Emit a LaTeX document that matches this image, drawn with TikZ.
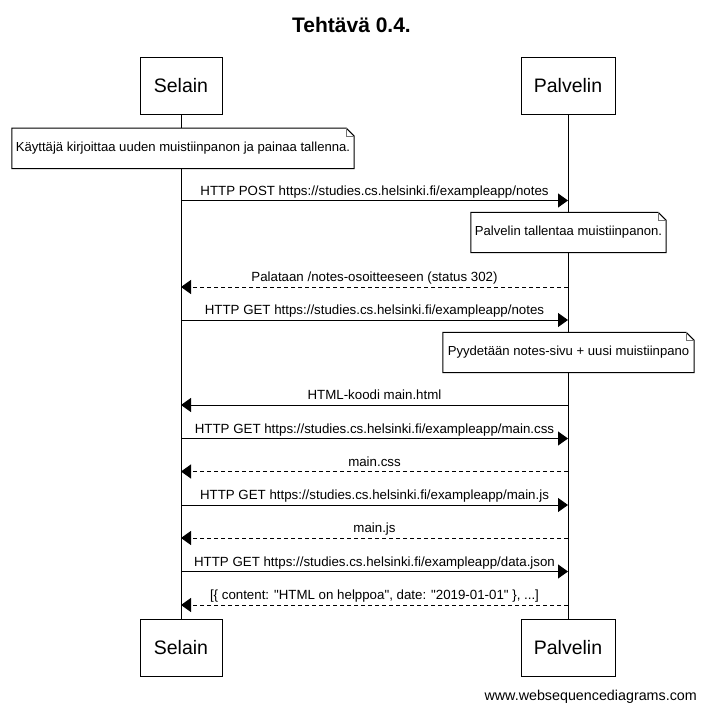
\documentclass[tikz,border=0pt]{standalone}
\usepackage{fontspec}
\setmainfont{Liberation Sans}[Ligatures=TeXOff]
\usetikzlibrary{arrows.meta}
\tikzset{
	actor/.style={draw, line width=1pt, minimum height=57pt, inner sep=0pt, font=\fontsize{19.5}{22}\selectfont},
	note/.style={fill=white, minimum height=40pt, inner sep=0pt, font=\fontsize{13.1}{15}\selectfont},
	msg/.style={line width=1pt, -{Triangle[length=10pt,width=14pt]}},
	reply/.style={msg, dash pattern=on 4pt off 3pt},
	lbl/.style={midway, anchor=base, yshift=5.5pt, inner sep=0pt, font=\fontsize{13.3}{15}\selectfont}
}
\def\notebox#1{\draw[line width=1pt] (#1.south west) -- (#1.north west) -- ([xshift=-8pt]#1.north east) -- ([yshift=-8pt]#1.north east) -- (#1.south east) -- cycle;
	\draw[line width=0.8pt, black!55] ([xshift=-8pt]#1.north east) |- ([yshift=-8pt]#1.north east);}

\begin{document}
\begin{tikzpicture}[x=1pt, y=-1pt]
			%%%%% START %%%%%
			\useasboundingbox (0, 0) rectangle (704, 710);
			
			\node[anchor=base, inner sep=0pt, font=\bfseries\fontsize{21}{24}\selectfont] (title) at (351.5, 32.3) {Tehtävä 0.4.};
			
			\node[actor, minimum width=82pt] (selTop) at (181, 85.5) {Selain};
			\node[actor, minimum width=94pt] (palTop) at (568, 85.5) {Palvelin};
			\node[actor, minimum width=82pt] (selBot) at (181, 647.5) {Selain};
			\node[actor, minimum width=94pt] (palBot) at (568, 647.5) {Palvelin};
			
			\draw[line width=1pt] (selTop) -- (selBot);
			\draw[line width=1pt] (palTop) -- (palBot);
			
			\node[note, minimum width=342pt] (noteWrite) at (183, 148.3) {Käyttäjä kirjoittaa uuden muistiinpanon ja painaa tallenna.};
			\notebox{noteWrite}
			
			\coordinate (s1) at (181, 200.5);
			\coordinate (p1) at (568, 200.5);
			\draw[msg] (s1) -- node[lbl] {HTTP POST https://studies.cs.helsinki.fi/exampleapp/notes} (p1);
			
			\node[note, minimum width=195pt] (noteSave) at (568.5, 232.5) {Palvelin tallentaa muistiinpanon.};
			\notebox{noteSave}
			
			\coordinate (s2) at (181, 287);
			\coordinate (p2) at (568, 287);
			\draw[reply] (p2) -- node[lbl] {Palataan /notes-osoitteeseen (status 302)} (s2);
			
			\coordinate (s3) at (181, 320);
			\coordinate (p3) at (568, 320);
			\draw[msg] (s3) -- node[lbl] {HTTP GET https://studies.cs.helsinki.fi/exampleapp/notes} (p3);
			
			\node[note, minimum width=251pt] (noteAsk) at (568.5, 352.5) {Pyydetään notes-sivu + uusi muistiinpano};
			\notebox{noteAsk}
			
			\coordinate (s4) at (181, 405);
			\coordinate (p4) at (568, 405);
			\draw[msg] (p4) -- node[lbl] {HTML-koodi main.html} (s4);
			
			\coordinate (s5) at (181, 438.5);
			\coordinate (p5) at (568, 438.5);
			\draw[msg] (s5) -- node[lbl] {HTTP GET https://studies.cs.helsinki.fi/exampleapp/main.css} (p5);
			
			\coordinate (s6) at (181, 471.5);
			\coordinate (p6) at (568, 471.5);
			\draw[reply] (p6) -- node[lbl] {main.css} (s6);
			
			\coordinate (s7) at (181, 505);
			\coordinate (p7) at (568, 505);
			\draw[msg] (s7) -- node[lbl] {HTTP GET https://studies.cs.helsinki.fi/exampleapp/main.js} (p7);
			
			\coordinate (s8) at (181, 538);
			\coordinate (p8) at (568, 538);
			\draw[reply] (p8) -- node[lbl] {main.js} (s8);
			
			\coordinate (s9) at (181, 571.5);
			\coordinate (p9) at (568, 571.5);
			\draw[msg] (s9) -- node[lbl] {HTTP GET https://studies.cs.helsinki.fi/exampleapp/data.json} (p9);
			
			\coordinate (s10) at (181, 605);
			\coordinate (p10) at (568, 605);
			\draw[reply] (p10) -- node[lbl] {[\{ content: "HTML on helppoa", date: "2019-01-01" \}, ...]} (s10);
			
			\node[anchor=base east, inner sep=0pt, font=\fontsize{14.3}{16}\selectfont] (credit) at (697, 700.5) {www.websequencediagrams.com};
			
			%%%%% END %%%%%
\end{tikzpicture}
\end{document}
